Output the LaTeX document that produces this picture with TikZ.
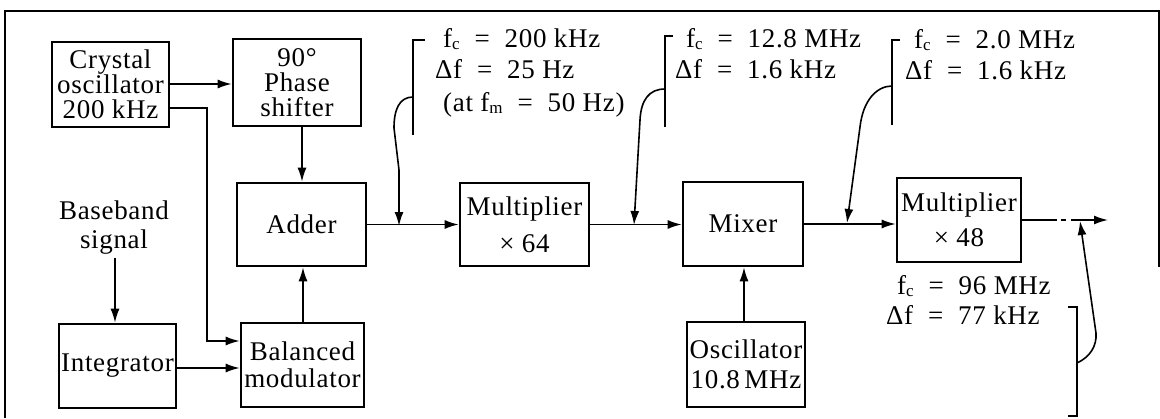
\documentclass[tikz,border=0pt]{standalone}
\usepackage{fontspec}
\setmainfont{Liberation Serif}[LetterSpace=2.5]
\usetikzlibrary{arrows.meta}
\newcommand\sbs[1]{{\fontsize{17}{17}\selectfont\raisebox{-0.3ex}{#1}}}
\newcommand\eqs{\hspace{0.55em}=\hspace{0.55em}}
\begin{document}
\begin{tikzpicture}[x=1pt,y=-1pt,
  every node/.style={font=\fontsize{27}{25}\selectfont},
  blk/.style={draw, line width=2.6pt, align=center, inner sep=0pt},
  lbl/.style={inner sep=0pt, anchor=base west},
  con/.style={line width=1.6pt},
  arr/.style={con, -{Latex[length=14pt,width=9pt]}},
  brk/.style={line width=1.7pt}]
\useasboundingbox (0,0) rectangle (1160,418);
\fill[white] (0,0) rectangle (1160,418);
% frame
\draw[line width=1.3pt] (5,418) -- (5,11) -- (1159,11) -- (1159,267);
% blocks
\node[blk, minimum width=117pt, minimum height=85pt] (xtal) at (110.5,84.5) {Crystal\\oscillator\\200 kHz};
\node[blk, minimum width=128pt, minimum height=87pt] (phase) at (297,82.5) {90°\\Phase\\shifter};
\node[blk, minimum width=129pt, minimum height=83pt] (adder) at (301.5,224.5) {Adder};
\node[blk, minimum width=117pt, minimum height=84pt] (integ) at (117.5,366) {Integrator};
\node[blk, minimum width=123pt, minimum height=84pt] (balmod) at (302.5,365) {Balanced\\[2pt]modulator};
\node[blk, minimum width=129pt, minimum height=83pt] (mult1) at (524.5,224.5) {Multiplier\\[12pt]× 64};
\node[blk, minimum width=120pt, minimum height=84pt] (mixer) at (743,224) {Mixer};
\node[blk, minimum width=118pt, minimum height=85pt] (osc) at (746,364.5) {Oscillator\\[5pt]10.8\,MHz};
\node[blk, minimum width=124pt, minimum height=84pt] (mult2) at (959,220) {Multiplier\\[10pt]× 48};
\node[align=center, inner sep=0pt] (base) at (114,228) {Baseband\\[4pt]signal};
% labels
\node[lbl] (t1a) at (443,47) {f\sbs{c}\eqs200 kHz};
\node[lbl] (t1b) at (435,78) {Δf\eqs25 Hz};
\node[lbl] (t1c) at (443,111) {(at f\sbs{m}\eqs50 Hz)};
\node[lbl] (t2a) at (686,47) {f\sbs{c}\eqs12.8 MHz};
\node[lbl] (t2b) at (675,78) {Δf\eqs1.6 kHz};
\node[lbl] (t3a) at (914,48) {f\sbs{c}\eqs2.0 MHz};
\node[lbl] (t3b) at (905,79) {Δf\eqs1.6 kHz};
\node[lbl] (t4a) at (897,294) {f\sbs{c}\eqs96 MHz};
\node[lbl] (t4b) at (886,324) {Δf\eqs77 kHz};
% connectors
\draw[arr] (xtal.east |- 0,84) -- (phase.west |- 0,84);
\draw[arr] (xtal.east |- 0,108) -| (207,341) -- (balmod.west |- 0,341);
\draw[arr] (phase.south -| 302,0) -- (adder.north -| 302,0);
\draw[arr] (balmod.north -| 303,0) -- (adder.south -| 303,0);
\draw[arr] (base.south -| 115,0) ++(0,3) -- (integ.north -| 115,0);
\draw[arr] (integ.east |- 0,368) -- (balmod.west |- 0,368);
\draw[arr] (adder.east) -- (mult1.west);
\draw[arr] (mult1.east) -- (mixer.west |- mult1.east);
\draw[arr] (osc.north -| 744,0) -- (mixer.south -| 744,0);
\draw[arr] (mixer.east) -- (mixer.east -| mult2.west);
% output
\coordinate (o1) at (1057,220);
\coordinate (o2) at (1061,220);
\coordinate (o3) at (1066,220);
\coordinate (o4) at (1071,220);
\coordinate (oend) at (1108,220);
\draw[con] (mult2.east) -- (o1);
\draw[con] (o2) -- (o3);
\draw[arr] (o4) -- (oend);
% bracket 1
\coordinate (b1t) at (413,40);
\coordinate (b1b) at (413,135);
\coordinate (b1m) at (413,97);
\coordinate (b1e) at (399,226);
\draw[brk] (425,40) -- (b1t) -- (b1b);
\draw[arr] (b1m) .. controls (399,97) and (394,110) .. (394,128) -- (399,170) -- (b1e);
% bracket 2
\coordinate (b2t) at (665,36);
\coordinate (b2b) at (665,127);
\coordinate (b2m) at (665,89);
\coordinate (b2e) at (634,225);
\draw[brk] (673,36) -- (b2t) -- (b2b);
\draw[arr] (b2m) .. controls (649,89) and (641,100) .. (640,120) -- (b2e);
% bracket 3
\coordinate (b3t) at (892,40);
\coordinate (b3b) at (892,125);
\coordinate (b3m) at (892,86);
\coordinate (b3e) at (847,223);
\draw[brk] (900,40) -- (b3t) -- (b3b);
\draw[arr] (b3m) .. controls (877,86) and (863,100) .. (860,127) -- (b3e);
% bracket 4
\coordinate (b4t) at (1077,307);
\coordinate (b4b) at (1077,416);
\coordinate (b4m) at (1077,363);
\coordinate (b4e) at (1080,221);
\draw[brk] (1068,307) -- (b4t) -- (b4b) -- (1068,416);
\draw[arr] (b4m) .. controls (1090,357) and (1097,346) .. (1096,333) -- (b4e);
\end{tikzpicture}
\end{document}
